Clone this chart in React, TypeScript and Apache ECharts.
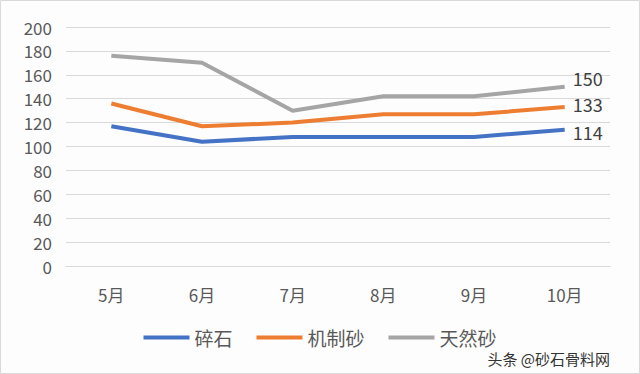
import React, { useEffect, useRef } from "react";
import * as echarts from "echarts";

const categories = ["5月", "6月", "7月", "8月", "9月", "10月"];
const crushedStone = [117, 104, 108, 108, 108, 114];
const machineSand = [136, 117, 120, 127, 127, 133];
const naturalSand = [176, 170, 130, 142, 142, 150];
const seriesNames = ["碎石", "机制砂", "天然砂"];
const colors = ["#4472C4", "#ED7D31", "#A5A5A5"];

const FONT = "'Noto Sans CJK SC', 'Noto Sans', sans-serif";

export default function App() {
  const ref = useRef<HTMLDivElement>(null);
  useEffect(() => {
    if (!ref.current) return;
    const chart = echarts.init(ref.current, undefined, { renderer: "svg" });
    const mk = (name: string, data: number[], color: string, dy: number) => ({
      name,
      type: "line",
      data,
      symbol: "none",
      lineStyle: { width: 4, color },
      itemStyle: { color },
      endLabel: {
        show: true,
        distance: 8,
        offset: [0, dy],
        color: "#404040",
        fontSize: 18,
        lineHeight: 18,
        fontFamily: FONT,
        formatter: "{c}",
      },
    });
    chart.setOption({
      animation: false,
      backgroundColor: "#fdfdfd",
      grid: { left: 66, right: 30, top: 27, bottom: 108 },
      legend: {
        bottom: 22,
        left: "center",
        itemWidth: 46,
        itemHeight: 4,
        itemGap: 24,
        icon: "rect",
        textStyle: { fontSize: 19, color: "#595959", fontFamily: FONT },
        data: seriesNames,
      },
      xAxis: {
        type: "category",
        data: categories,
        boundaryGap: true,
        axisLine: { show: true, lineStyle: { color: "#d9d9d9" } },
        axisTick: { show: false },
        axisLabel: { color: "#595959", fontSize: 17, margin: 20, fontFamily: FONT },
      },
      yAxis: {
        type: "value",
        min: 0,
        max: 200,
        interval: 20,
        axisLine: { show: false },
        axisTick: { show: false },
        axisLabel: { color: "#595959", fontSize: 17, margin: 14, fontFamily: FONT },
        splitLine: { lineStyle: { color: "#d9d9d9", width: 1 } },
      },
      graphic: [
        {
          type: "rect",
          shape: { x: 0.5, y: 0.5, width: 639, height: 373 },
          style: { fill: "none", stroke: "#d9d9d9", lineWidth: 1 },
          silent: true,
        },
        {
          type: "text",
          right: 30,
          bottom: 8,
          style: { text: "头条 @砂石骨料网", fontSize: 15, fill: "#333333", fontFamily: FONT },
          silent: true,
        },
      ],
      series: [
        mk(seriesNames[0], crushedStone, colors[0], 2),
        mk(seriesNames[1], machineSand, colors[1], -3),
        mk(seriesNames[2], naturalSand, colors[2], -9),
      ],
    });
    return () => chart.dispose();
  }, []);
  return <div ref={ref} style={{ width: 640, height: 374, position: "absolute", left: 0, top: 0 }} />;
}
